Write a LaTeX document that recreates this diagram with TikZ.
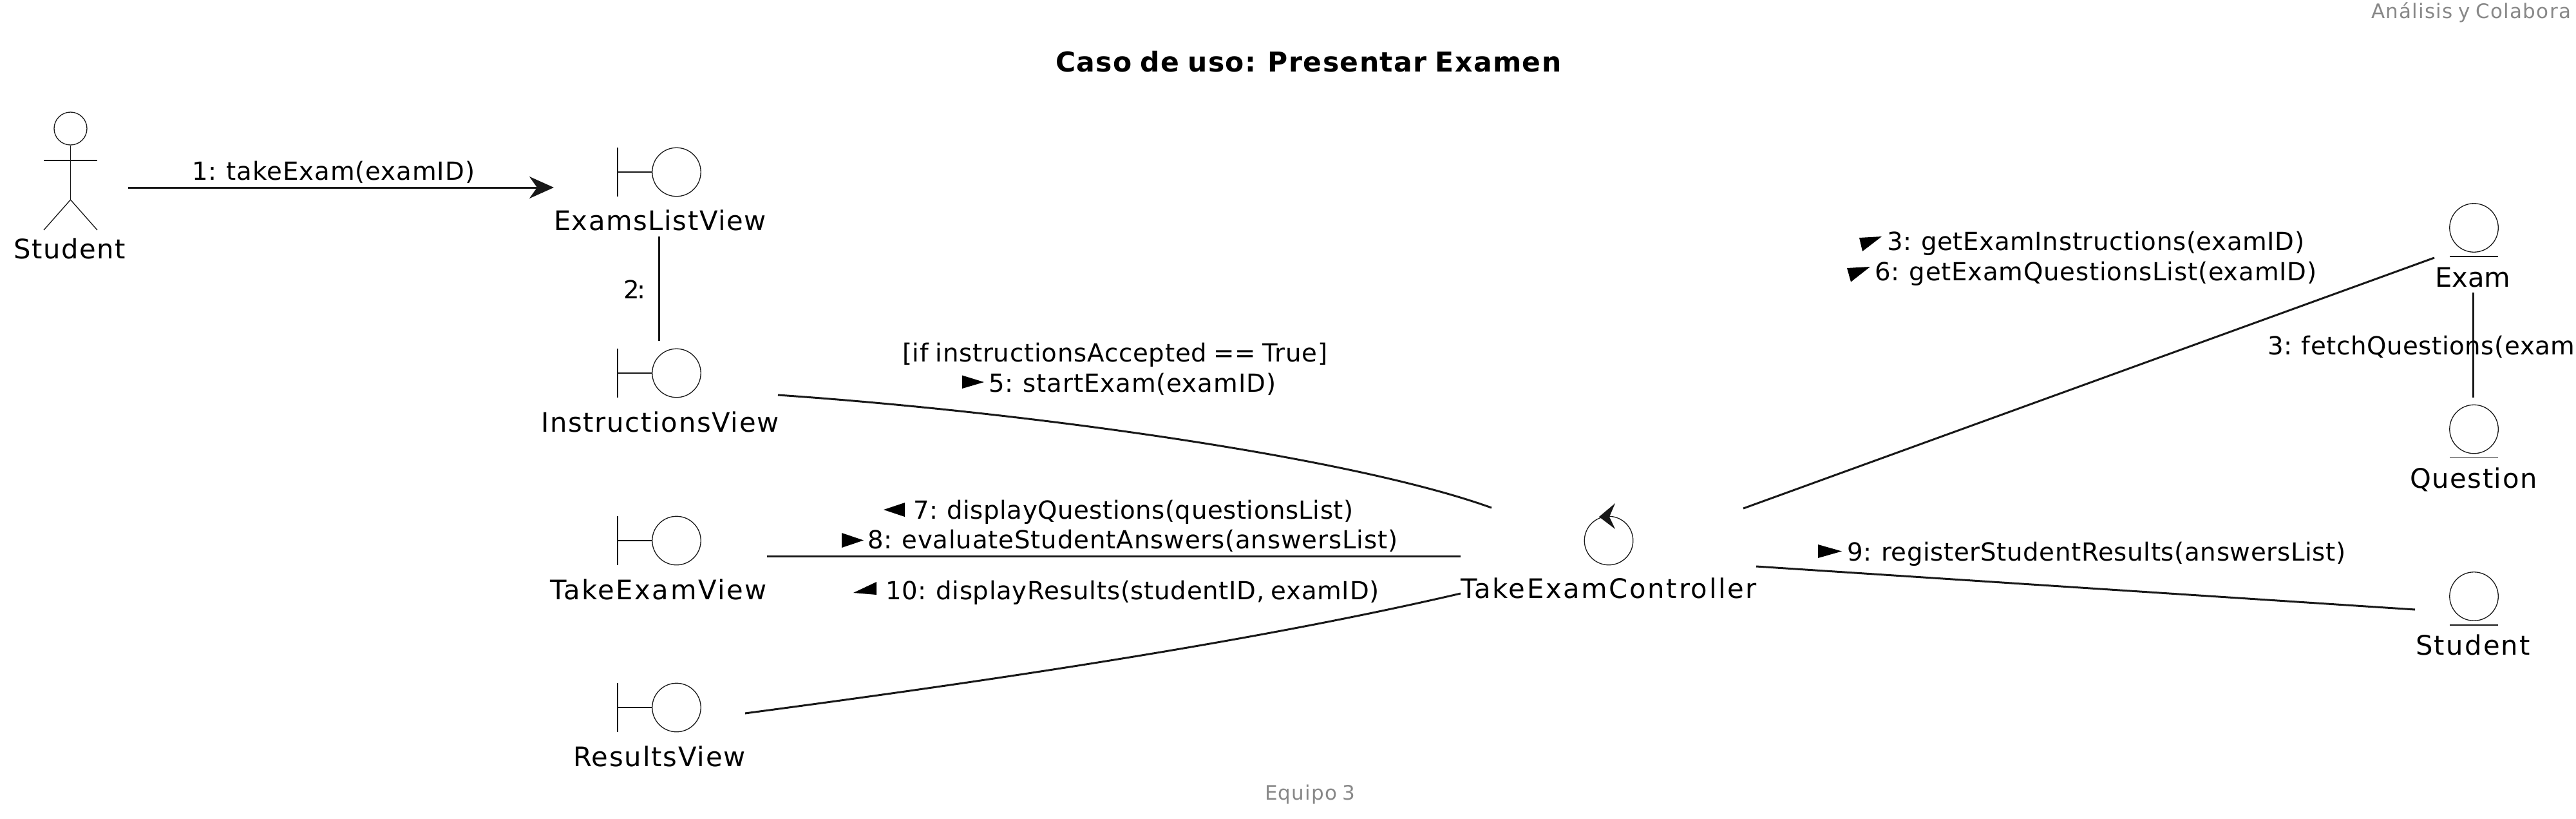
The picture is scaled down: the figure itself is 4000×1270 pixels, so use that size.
\documentclass[tikz,border=0pt]{standalone}
\usepackage{fontspec}
\usepackage{xstring}
\usetikzlibrary{arrows.meta}
\setmainfont[WordSpace=0.8]{DejaVu Sans}
\definecolor{ink}{HTML}{181818}
\definecolor{note}{HTML}{888888}
\def\fsz{40}
% set text so that it spans a given width, as the hinted original does
\newcommand\fittext[2]{\setbox0=\hbox{#2}\StrLen{#2}[\nch]\pgfmathsetmacro\lsp{(#1-\the\wd0)/((\nch-1)*\fsz)*100}\addfontfeatures{LetterSpace=\lsp}#2}
\tikzset{
  x=1pt,y=-1pt,
  lab/.style={inner sep=0,outer sep=0,anchor=base,text=black,font=\def\fsz{41.7}\fontsize{41.7}{50}\selectfont},
  msg/.style={inner sep=0,outer sep=0,anchor=base west,text=black,font=\def\fsz{38.7}\fontsize{38.7}{46}\selectfont},
  ttl/.style={inner sep=0,outer sep=0,anchor=base west,text=black,font=\def\fsz{42.5}\fontsize{42.5}{50}\selectfont\bfseries},
  foot/.style={inner sep=0,outer sep=0,anchor=base west,text=note,font=\def\fsz{31}\fontsize{31}{37}\selectfont},
  icon/.style={draw=ink,line width=1.3pt},
  orb/.style={icon,circle,minimum size=75.5pt,inner sep=0,fill=white},
  link/.style={draw=ink,line width=3pt},
  dirmark/.style={fill=black,draw=none},
}
\newcommand\boundaryicon[2]{% name, centre y
  \node[orb] (#1) at (1050.5,#2) {};
  \draw[icon] (959,#2-38) -- (959,#2+38);
  \draw[icon] (959,#2) -- (#1.west);
}
\newcommand\entityicon[2]{% name, centre y
  \node[orb] (#1) at (3841.5,#2) {};
  \draw[icon] (3804,#2+44.5) -- (3879,#2+44.5);
}
\begin{document}
\begin{tikzpicture}
\fill[white] (0,0) rectangle (4000,1270);
\useasboundingbox (0,0) rectangle (4000,1270);

% header, title, footer
\node[foot] (header) at (3682,28) {\fittext{313}{Análisis y Colabora}};
\node[ttl] (title) at (1639,111) {\fittext{792}{Caso de uso: Presentar Examen}};
\node[foot] (footer) at (1964,1241) {\fittext{142}{Equipo 3}};

% actor
\node[icon,circle,minimum size=51pt,inner sep=0] (actorhead) at (109.5,199.5) {};
\coordinate (actorhip) at (109.5,310);
\draw[icon] (actorhead.south) -- (actorhip);
\draw[icon] (68,249) -- (151,249);
\draw[icon] (68,357) -- (actorhip) -- (151,357);
\node[lab] (student) at (108,401) {\fittext{174}{Student}};

% boundaries
\boundaryicon{examslist}{267}
\boundaryicon{instructions}{579}
\boundaryicon{takeexam}{839}
\boundaryicon{results}{1098}
\node[lab] (examslistlabel) at (1025,357) {\fittext{330}{ExamsListView}};
\node[lab] (instructionslabel) at (1025,670) {\fittext{369}{InstructionsView}};
\node[lab] (takeexamlabel) at (1022.5,930) {\fittext{337}{TakeExamView}};
\node[lab] (resultslabel) at (1024,1189) {\fittext{268}{ResultsView}};

% controller
\node[orb] (controller) at (2498,839) {};
\fill[ink] (2483,802) -- (2508,781) -- (2499,802) -- (2508,821) -- cycle;
\node[lab] (controllerlabel) at (2498,928.5) {\fittext{460}{TakeExamController}};

% entities
\entityicon{exam}{353.5}
\entityicon{question}{666}
\entityicon{studententity}{925.5}
\node[lab] (examlabel) at (3840,445) {\fittext{117}{Exam}};
\node[lab] (questionlabel) at (3841,757) {\fittext{197}{Question}};
\node[lab] (studententitylabel) at (3840,1016) {\fittext{178}{Student}};

% connector ends
\coordinate (a1) at (199,291);   \coordinate (b1) at (860,291);
\coordinate (a2) at (1023,367);  \coordinate (b2) at (1023,529);
\coordinate (a5) at (1208,613);  \coordinate (b5) at (2316,788);
\coordinate (a7) at (1191,863.5);\coordinate (b7) at (2268,863.5);
\coordinate (a10) at (1157,1107);\coordinate (b10) at (2268,921);
\coordinate (a3) at (2707,789);  \coordinate (b3) at (3780,400);
\coordinate (a4) at (3840,454);  \coordinate (b4) at (3840,617);
\coordinate (a9) at (2727,879);  \coordinate (b9) at (3750,946);

% connectors
\draw[link,-{Stealth[length=38pt,width=34pt,inset=12pt]}] (a1) -- (b1);
\draw[link] (a2) -- (b2);
\draw[link] (a5) .. controls (1600,640) and (2100,710) .. (b5);
\draw[link] (a7) -- (b7);
\draw[link] (a10) .. controls (1550,1055) and (1950,995) .. (b10);
\draw[link] (a3) -- (b3);
\draw[link] (a4) -- (b4);
\draw[link] (a9) -- (b9);

% messages
\node[msg] (m1) at (298,279) {\fittext{440}{1: takeExam(examID)}};
\node[msg] (m2) at (968.5,463) {\fittext{34}{2:}};
\node[msg] (mif) at (1401,561) {\fittext{663}{[if instructionsAccepted == True]}};
\node[msg] (m5) at (1535,608) {\fittext{447}{5: startExam(examID)}};
\node[msg] (m7) at (1418,805) {\fittext{684}{7: displayQuestions(questionsList)}};
\node[msg] (m8) at (1347,851) {\fittext{824}{8: evaluateStudentAnswers(answersList)}};
\node[msg] (m10) at (1375,930) {\fittext{768}{10: displayResults(studentID, examID)}};
\node[msg] (m3) at (2930,388) {\fittext{649}{3: getExamInstructions(examID)}};
\node[msg] (m6) at (2911.5,435) {\fittext{686.5}{6: getExamQuestionsList(examID)}};
\node[msg] (mfetch) at (3521,550) {\fittext{478}{3: fetchQuestions(exam}};
\node[msg] (m9) at (2868,870) {\fittext{775}{9: registerStudentResults(answersList)}};

% direction marks
\fill[dirmark] (1494,582.5) -- (1528,593) -- (1494,603) -- cycle;
\fill[dirmark] (1405,780) -- (1372,791) -- (1405,802) -- cycle;
\fill[dirmark] (1307,827) -- (1341,838.5) -- (1307,850) -- cycle;
\fill[dirmark] (1325,920) -- (1361,903) -- (1361,923) -- cycle;
\fill[dirmark] (2887,369) -- (2922,367) -- (2892,390) -- cycle;
\fill[dirmark] (2868,416) -- (2904,414) -- (2874,437.5) -- cycle;
\fill[dirmark] (2823,845) -- (2860,855.5) -- (2823,866) -- cycle;
\end{tikzpicture}
\end{document}
